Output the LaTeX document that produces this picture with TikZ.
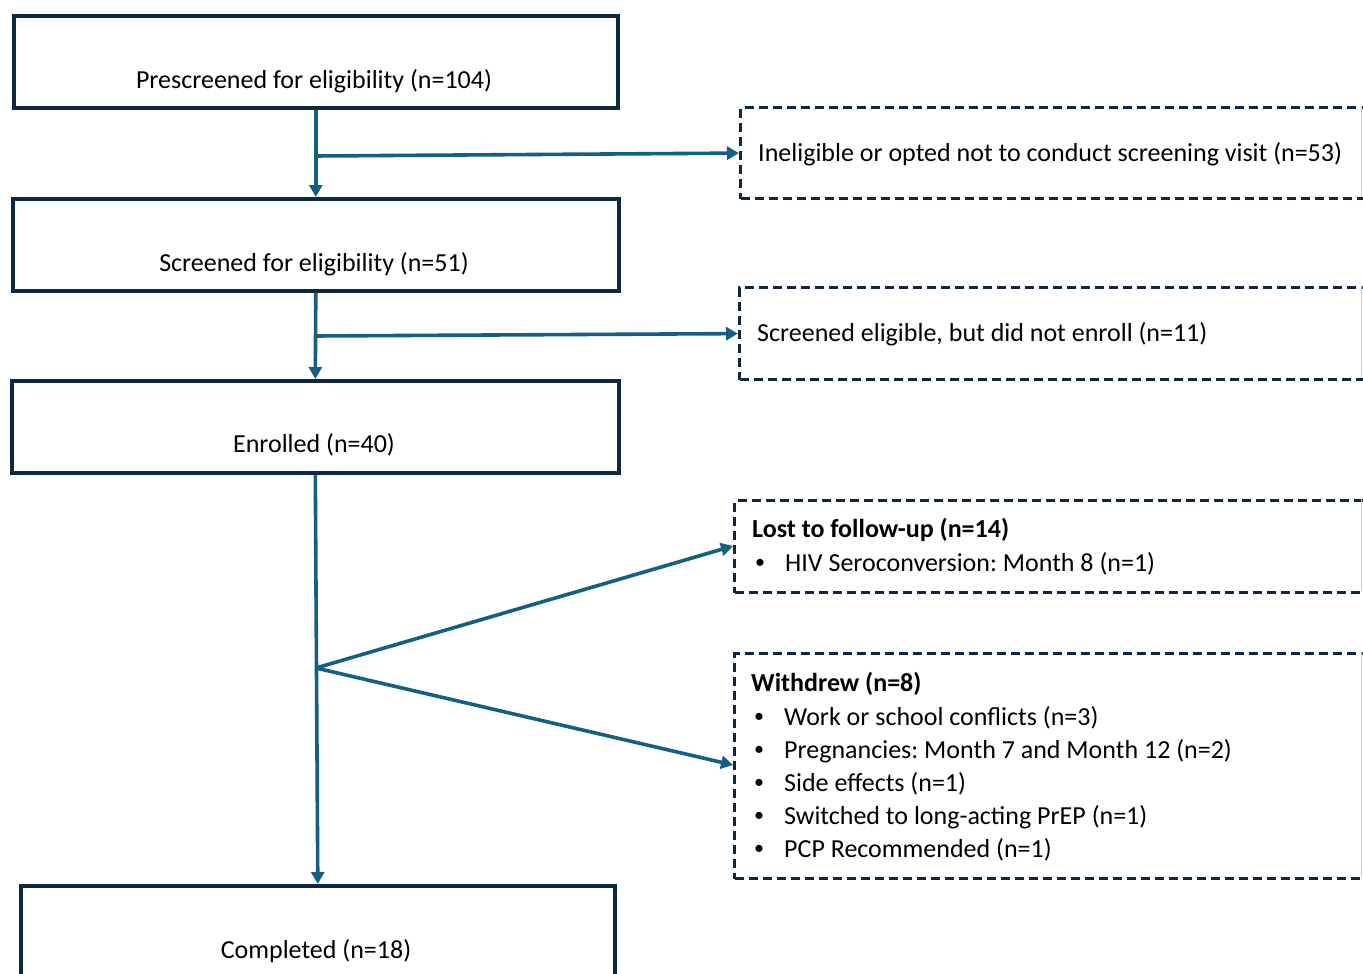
\documentclass[tikz,border=0pt]{standalone}
\usepackage{fontspec}
\setmainfont{Carlito}
\usetikzlibrary{arrows.meta}
\definecolor{boxc}{HTML}{0E2841}
\definecolor{arrc}{HTML}{156082}
\tikzset{
  mbox/.style={draw=boxc, line width=3.6pt, anchor=north west, inner sep=0pt},
  dbox/.style={draw=boxc, line width=3.2pt, dash pattern=on 9pt off 5pt, anchor=north west, inner sep=0pt},
  txt/.style={font=\fontsize{26}{30}\selectfont, text=black, inner sep=0pt},
  btxt/.style={font=\fontsize{26}{30}\selectfont\bfseries, text=black, inner sep=0pt, anchor=base west},
  ltxt/.style={font=\fontsize{26}{30}\selectfont, text=black, inner sep=0pt, anchor=base west},
  bul/.style={font=\fontsize{20}{24}\selectfont, text=black, inner sep=0pt, anchor=base west},
  arr/.style={draw=arrc, line width=3.6pt, -{Triangle[length=12pt,width=13pt]}},
}
\frenchspacing
\begin{document}
\begin{tikzpicture}[x=1pt,y=-1pt]
\useasboundingbox (0,0) rectangle (1363,974);
\clip (0,0) rectangle (1363,974);
% main boxes
\node[mbox, minimum width=604pt, minimum height=92pt] (b1) at (12,14) {};
\node[mbox, minimum width=606pt, minimum height=92pt] (b2) at (11,197) {};
\node[mbox, minimum width=607pt, minimum height=92pt] (b3) at (10,379) {};
\node[mbox, minimum width=594pt, minimum height=130pt] (b4) at (19,884) {};
\node[txt] (t1) at (314,81) {Prescreened for eligibility (n=104)};
\node[txt] (t2) at (314,264) {Screened for eligibility (n=51)};
\node[txt] (t3) at (314,445) {Enrolled (n=40)};
\node[txt] (t4) at (316,951) {Completed (n=18)};
% dashed boxes
\node[dbox, minimum width=640pt, minimum height=91pt] (d1) at (739,106) {};
\node[dbox, minimum width=640pt, minimum height=92pt] (d2) at (738,286) {};
\node[dbox, minimum width=646pt, minimum height=92pt] (d3) at (733,499) {};
\node[dbox, minimum width=646pt, minimum height=225pt] (d4) at (733,652) {};
\draw[gray!40, line width=0.8pt] (1361.5,106) -- (1361.5,197) (1361.5,286) -- (1361.5,378)
  (1361.5,499) -- (1361.5,591) (1361.5,652) -- (1361.5,877);
\node[ltxt] (s1) at (758,161) {Ineligible or opted not to conduct screening visit (n=53)};
\node[ltxt] (s2) at (757,341) {Screened eligible, but did not enroll (n=11)};
\node[btxt] (l0) at (752,537) {Lost to follow-up (n=14)};
\node[bul] (lb1) at (755,568) {\textbullet};
\node[ltxt] (l1) at (785,571) {HIV Seroconversion: Month 8 (n=1)};
\node[btxt] (w0) at (751,691) {Withdrew (n=8)};
\node[bul] (wb1) at (754,722) {\textbullet};
\node[ltxt] (w1) at (784,725) {Work or school conflicts (n=3)};
\node[bul] (wb2) at (754,755) {\textbullet};
\node[ltxt] (w2) at (784,758) {Pregnancies: Month 7 and Month 12 (n=2)};
\node[bul] (wb3) at (754,788) {\textbullet};
\node[ltxt] (w3) at (784,791) {Side effects (n=1)};
\node[bul] (wb4) at (754,821) {\textbullet};
\node[ltxt] (w4) at (784,824) {Switched to long-acting PrEP (n=1)};
\node[bul] (wb5) at (754,854) {\textbullet};
\node[ltxt] (w5) at (784,857) {PCP Recommended (n=1)};
% connectors
\coordinate (j1) at (314,156);
\coordinate (j2) at (314,336);
\coordinate (j3) at (316,668);
\coordinate (a3) at (733,546);
\coordinate (a4) at (733,765);
\draw[arr] (b1.south) -- (b2.north);
\draw[arr] (j1) -- (d1.west);
\draw[arr] (b2.south) -- (b3.north);
\draw[arr] (j2) -- (d2.west);
\draw[arr] (b3.south) -- (b4.north);
\draw[arr] (j3) -- (a3);
\draw[arr] (j3) -- (a4);
\end{tikzpicture}
\end{document}
